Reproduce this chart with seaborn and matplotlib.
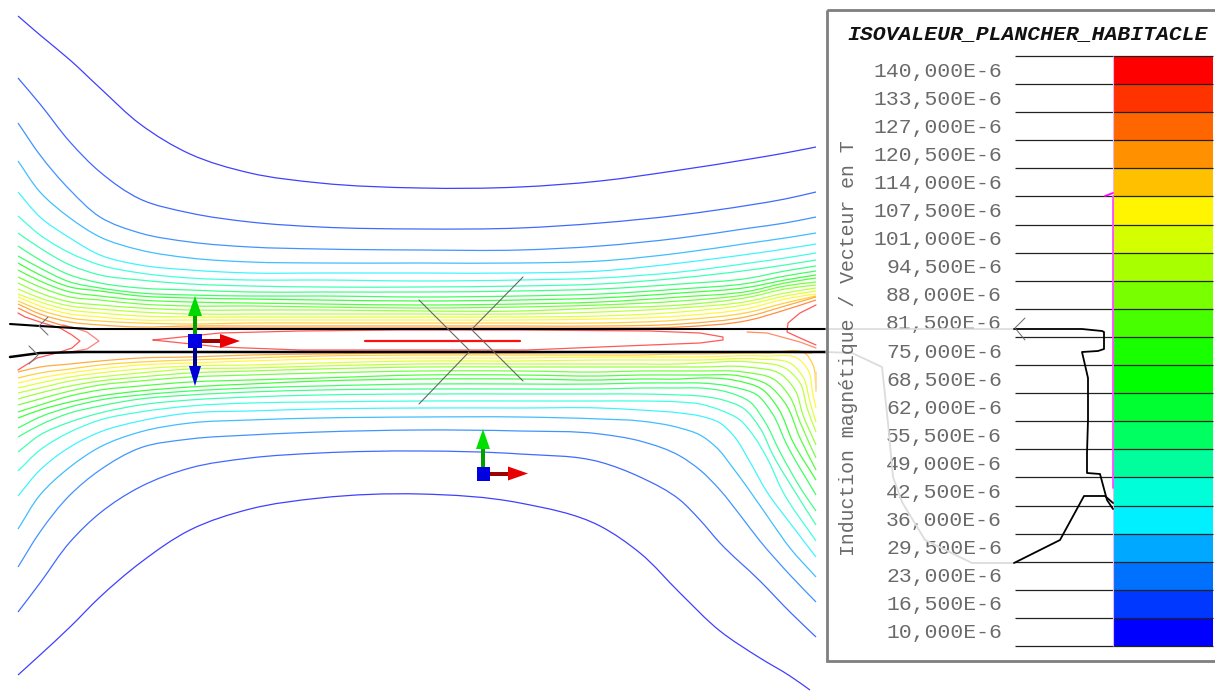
import numpy as np
import matplotlib
matplotlib.use("Agg")
import matplotlib.pyplot as plt
from matplotlib.colors import ListedColormap
from matplotlib.patches import Rectangle, Polygon, PathPatch
from matplotlib.path import Path
from matplotlib.transforms import ScaledTranslation
import seaborn as sns

# legend levels and colours, top of the scale first
level_labels = ["140,000E-6", "133,500E-6", "127,000E-6", "120,500E-6", "114,000E-6",
                "107,500E-6", "101,000E-6", "94,500E-6", "88,000E-6", "81,500E-6",
                "75,000E-6", "68,500E-6", "62,000E-6", "55,500E-6", "49,000E-6",
                "42,500E-6", "36,000E-6", "29,500E-6", "23,000E-6", "16,500E-6",
                "10,000E-6"]
band_colors = ["#ff0000", "#ff3300", "#ff6600", "#ff9000", "#ffc000", "#fff500", "#d4ff00",
               "#a8ff00", "#78ff00", "#48ff00", "#18ff00", "#00ff00", "#00ff30", "#00ff60",
               "#00ff9c", "#00ffd8", "#00f0ff", "#00a8ff", "#0070ff", "#0038ff", "#0000ff"]

# isolines above the plate, read at these x positions
top_x = [18, 40, 70, 100, 140, 190, 250, 320, 420, 520, 600, 680, 750, 785, 816]
top_0 = [16, 35, 60, 88, 124, 154, 173, 183, 188, 187, 181, 170, 159, 153, 147]
top_1 = [78, 104, 142, 172, 199, 213, 222, 227, 229, 228, 223, 215, 205, 199, 192]
top_2 = [123, 155, 190, 217, 233, 242, 247, 249, 250, 250, 246, 238, 228, 223, 217]
top_3 = [161, 192, 218, 237, 250, 258, 262, 263, 263, 263, 261, 253, 243, 238, 233]
top_4 = [192, 217, 238, 255, 265, 270, 273, 273, 273, 273, 271, 263, 254, 249, 244]
top_5 = [216, 235, 253, 265, 273, 278, 280, 280, 281, 280, 278, 272, 263, 258, 253]
top_6 = [233, 248, 265, 275, 280, 284, 286, 287, 287, 286, 284, 278, 270, 265, 260]
top_7 = [246, 260, 275, 283, 288, 290, 292, 292, 292, 291, 289, 284, 278, 271, 266]
top_8 = [256, 268, 282, 288, 293, 295, 296, 296, 297, 296, 294, 289, 283, 276, 271]
top_9 = [263, 275, 287, 291, 296, 298, 299, 300, 301, 300, 298, 293, 287, 280, 275]
top_10 = [270, 281, 292, 296, 300, 302, 303, 304, 305, 304, 302, 297, 291, 283, 278]
top_11 = [277, 287, 297, 300, 304, 306, 306, 307, 308, 307, 305, 301, 294, 286, 282]
top_12 = [283, 293, 302, 305, 308, 310, 310, 310, 311, 311, 308, 305, 297, 289, 285]
top_13 = [289, 298, 306, 309, 312, 314, 314, 314, 314, 314, 312, 308, 301, 293, 288]
top_14 = [294, 302, 310, 313, 316, 317, 317, 317, 317, 317, 316, 312, 304, 296, 291]
top_15 = [297, 306, 314, 317, 320, 320, 320, 320, 320, 320, 319, 316, 308, 299, 294]
top_16 = [301, 310, 318, 321, 323, 324, 323, 323, 323, 323, 323, 320, 312, 303, 296]
top_17 = [304, 314, 322, 325, 327, 326, 326, 326, 326, 326, 326, 324, 316, 306, 297]
top_18 = [308, 318, 327, 329, 329, 328, 328, 328, 328, 328, 328, 327, 320, 310, 300]

# isolines below the plate, shared stations up to x=680 then each line has its own
bottom_x = [18, 40, 70, 100, 140, 190, 250, 320, 420, 520, 600, 640, 680]
bottom_0 = [675, 655, 627, 597, 563, 530, 509, 498, 494, 503, 526, 553, 593]
bottom_1 = [612, 583, 542, 513, 487, 468, 458, 453, 451, 454, 462, 477, 500]
bottom_2 = [567, 532, 495, 470, 448, 439, 435, 432, 430, 431, 434, 441, 456]
bottom_3 = [529, 495, 467, 447, 432, 423, 420, 418, 417, 417, 419, 421, 428]
bottom_4 = [496, 470, 447, 432, 421, 413, 411, 409, 408, 408, 408, 410, 413]
bottom_5 = [471, 450, 432, 420, 412, 406, 403, 402, 401, 401, 401, 401, 402]
bottom_6 = [452, 435, 422, 413, 405, 400, 397, 395, 394, 394, 394, 394, 395]
bottom_7 = [437, 425, 413, 406, 399, 395, 392, 390, 389, 389, 389, 388, 388]
bottom_8 = [428, 417, 407, 400, 395, 391, 388, 386, 384, 384, 384, 383, 383]
bottom_9 = [418, 410, 402, 396, 391, 387, 384, 381, 379, 379, 380, 379, 379]
bottom_10 = [412, 405, 396, 390, 386, 382, 380, 378, 375, 375, 376, 375, 375]
bottom_11 = [405, 399, 391, 385, 381, 377, 375, 373, 371, 371, 372, 371, 371]
bottom_12 = [399, 393, 386, 381, 377, 373, 371, 369, 367, 367, 367, 367, 367]
bottom_13 = [393, 388, 381, 377, 373, 369, 368, 366, 364, 364, 364, 364, 364]
bottom_14 = [388, 383, 377, 373, 369, 366, 365, 363, 361, 361, 360, 360, 360]
bottom_15 = [383, 378, 373, 369, 365, 363, 361, 359, 358, 358, 357, 357, 357]
bottom_16 = [378, 373, 369, 365, 362, 360, 358, 356, 355, 355, 355, 355, 354]
bottom_17 = [372, 367, 364, 361, 358, 357, 355, 354, 353, 353, 352, 352, 352]

tail_0_x = [720, 760, 790, 810]
tail_0_y = [631, 658, 676, 690]
tail_1_x = [700, 720, 760, 790, 816]
tail_1_y = [520, 543, 581, 612, 637]
tail_2_x = [700, 720, 740, 760, 790, 816]
tail_2_y = [470, 490, 515, 541, 575, 602]
tail_3_x = [700, 717, 733, 747, 770, 790, 816]
tail_3_y = [435, 448, 468, 487, 520, 548, 577]
tail_4_x = [700, 720, 733, 750, 767, 790, 816]
tail_4_y = [416, 423, 435, 462, 492, 523, 557]
tail_5_x = [700, 720, 740, 753, 767, 783, 816]
tail_5_y = [404, 410, 420, 435, 458, 492, 541]
tail_6_x = [700, 723, 743, 760, 773, 797, 816]
tail_6_y = [396, 400, 408, 428, 455, 495, 525]
tail_7_x = [700, 727, 750, 765, 780, 803, 816]
tail_7_y = [388, 392, 402, 422, 452, 492, 511]
tail_8_x = [700, 733, 757, 772, 787, 816]
tail_8_y = [383, 387, 395, 413, 445, 495]
tail_9_x = [700, 733, 763, 778, 793, 816]
tail_9_y = [378, 380, 390, 408, 442, 480]
tail_10_x = [700, 740, 768, 785, 800, 816]
tail_10_y = [375, 376, 385, 403, 438, 470]
tail_11_x = [700, 743, 775, 790, 800, 816]
tail_11_y = [371, 372, 380, 397, 422, 458]
tail_12_x = [700, 747, 782, 795, 803, 816]
tail_12_y = [367, 367, 375, 390, 415, 445]
tail_13_x = [700, 750, 788, 800, 807, 816]
tail_13_y = [363, 362, 370, 383, 408, 432]
tail_14_x = [700, 757, 793, 803, 810, 816]
tail_14_y = [360, 359, 365, 377, 402, 422]
tail_15_x = [700, 763, 800, 808, 813, 816]
tail_15_y = [357, 356, 360, 370, 395, 408]
tail_16_x = [700, 767, 807, 813, 816]
tail_16_y = [354, 353, 355, 365, 388]
tail_17_x = [700, 770, 812]
tail_17_y = [352, 352, 353]
edge_stub_x = [815.5, 815.5]
edge_stub_y = [372, 391]

top_lines = [top_0, top_1, top_2, top_3, top_4, top_5, top_6, top_7, top_8, top_9,
             top_10, top_11, top_12, top_13, top_14, top_15, top_16, top_17, top_18]
bottom_lines = [(bottom_0, tail_0_x, tail_0_y), (bottom_1, tail_1_x, tail_1_y),
                (bottom_2, tail_2_x, tail_2_y), (bottom_3, tail_3_x, tail_3_y),
                (bottom_4, tail_4_x, tail_4_y), (bottom_5, tail_5_x, tail_5_y),
                (bottom_6, tail_6_x, tail_6_y), (bottom_7, tail_7_x, tail_7_y),
                (bottom_8, tail_8_x, tail_8_y), (bottom_9, tail_9_x, tail_9_y),
                (bottom_10, tail_10_x, tail_10_y), (bottom_11, tail_11_x, tail_11_y),
                (bottom_12, tail_12_x, tail_12_y), (bottom_13, tail_13_x, tail_13_y),
                (bottom_14, tail_14_x, tail_14_y), (bottom_15, tail_15_x, tail_15_y),
                (bottom_16, tail_16_x, tail_16_y), (bottom_17, tail_17_x, tail_17_y)]

# red loops inside the gap between the two plates
left_loop_x = [18, 25, 43, 60, 72, 80, 72, 57, 37, 18]
left_loop_y = [313, 317, 323, 328, 335, 341, 348, 353, 358, 370]
left_inner_x = [63, 75, 87, 99, 87, 70]
left_inner_y = [325, 328, 332, 341, 349, 352]
lobe_x = [153, 220, 300, 400, 520, 650, 700, 723, 723, 700, 600, 527, 400, 300, 220, 153]
lobe_y = [340, 333, 331, 330, 330, 331, 333, 337, 340, 343, 347, 350, 350, 350, 347, 340]
right_loop_x = [816, 800, 788, 787, 800, 816]
right_loop_y = [305, 313, 323, 332, 338, 345]
right_inner_x = [747, 767, 800, 816]
right_inner_y = [332, 333, 342, 348]
red_bar_x = [365, 520]
red_bar_y = [340.5, 340.5]

# plate edges, dark then pale where they run behind the legend
plate_top_x = [10, 40, 90, 826]
plate_top_y = [324, 326, 329, 329]
plate_bottom_x = [10, 40, 83, 826]
plate_bottom_y = [357, 353, 352, 352]
pale_top_x = [826, 1015]
pale_top_y = [329, 329]
pale_path_x = [826, 852, 882, 888, 893, 902, 925, 972, 1014]
pale_path_y = [352, 353, 367, 423, 477, 502, 540, 563, 563]

# curve drawn inside the legend
curve_a_x = [1014, 1082, 1102, 1104, 1104, 1098, 1082, 1088, 1088, 1087, 1087, 1100, 1107, 1113]
curve_a_y = [329, 329, 331, 332, 349, 351, 352, 378, 420, 453, 473, 474, 500, 509]
curve_b_x = [1014, 1060, 1084, 1105, 1113]
curve_b_y = [563, 540, 496, 496, 503]

sns.set_theme(style="white")
plt.rcParams["font.family"] = ["Liberation Mono", "DejaVu Sans"]

fig = plt.figure(figsize=(12.15, 6.91), dpi=100, facecolor="white")
W, H = 1215.0, 691.0

# colour scale
ax_band = fig.add_axes([1113 / W, 1 - 646 / H, 100 / W, 590 / H], zorder=1)
levels = np.arange(len(level_labels))[::-1].reshape(-1, 1)
sns.heatmap(levels, cmap=ListedColormap(band_colors[::-1]), cbar=False, ax=ax_band,
            xticklabels=False, yticklabels=level_labels)
ax_band.tick_params(axis="y", length=0, pad=80, labelsize=15.4, labelcolor="#6a6a6a", rotation=0)
shift = ScaledTranslation(0, -1 / 100, fig.dpi_scale_trans)
for t in ax_band.get_yticklabels():
    t.set_transform(t.get_transform() + shift)
ax_band.hlines(np.arange(len(level_labels) + 1), -0.98, 1.0, color="#222222", lw=0.9, clip_on=False)
ax_band.vlines(0, 0, len(level_labels), color="#e6b8f0", lw=0.8, clip_on=False)

# everything else sits on a pixel-sized axes
ax = fig.add_axes([0, 0, 1, 1], zorder=2)
ax.patch.set_visible(False)


def draw(x, y, color, lw=0.9, alpha=1.0):
    sns.lineplot(x=x, y=y, color=color, lw=lw, alpha=alpha, sort=False, estimator=None,
                 legend=False, ax=ax)


def draw_smooth(x, y, color, lw=0.9, alpha=0.75):
    # a spline through the read points, the isolines are round in the original
    p = np.column_stack([x, y]).astype(float)
    t = np.r_[0, np.cumsum(np.hypot(*np.diff(p, axis=0).T))]
    m = np.gradient(p, t, axis=0)
    verts = [p[0]]
    codes = [Path.MOVETO]
    for i in range(len(p) - 1):
        h = (t[i + 1] - t[i]) / 3
        verts += [p[i] + m[i] * h, p[i + 1] - m[i + 1] * h, p[i + 1]]
        codes += [Path.CURVE4] * 3
    ax.add_patch(PathPatch(Path(verts, codes), facecolor="none", edgecolor=color, lw=lw, alpha=alpha))


low_first = band_colors[::-1]
for i, row in enumerate(top_lines):
    draw_smooth(top_x, row, low_first[i])
for i, (row, tx, ty) in enumerate(bottom_lines):
    draw_smooth(bottom_x + tx, row + ty, low_first[i])
draw(edge_stub_x, edge_stub_y, "#ffd8a0", lw=1.2)

draw(left_loop_x, left_loop_y, "#ff3030", alpha=0.8)
draw(left_inner_x, left_inner_y, "#ff6060", alpha=0.8)
draw(lobe_x, lobe_y, "#ff3030", alpha=0.8)
draw(right_loop_x, right_loop_y, "#ff3030", alpha=0.8)
draw(right_inner_x, right_inner_y, "#ff7040", alpha=0.8)
draw(red_bar_x, red_bar_y, "#ff1010", lw=1.6)

draw(plate_top_x, plate_top_y, "black", lw=1.5)
draw(plate_bottom_x, plate_bottom_y, "black", lw=1.8)
draw(pale_top_x, pale_top_y, "#dcdcdc", lw=1.2)
draw(pale_path_x, pale_path_y, "#dcdcdc", lw=1.3)
draw(curve_a_x, curve_a_y, "black", lw=1.3)
draw(curve_b_x, curve_b_y, "black", lw=1.3)

# magenta marker along the scale
draw([1113, 1113], [196, 488], "#ff40ff", lw=1.2)
draw([1105, 1113], [196, 193], "#ff00ff", lw=1.3)

# cross and arrowheads
for xs, ys in [([419, 469], [300, 350]), ([472, 523], [330, 381]), ([472, 523], [329, 277]),
               ([469, 419], [352, 404])]:
    draw(xs, ys, "#666666", lw=0.8)
draw([48, 39, 48], [317, 326, 335], "#777777", lw=0.8)
draw([29, 38, 29], [346, 355, 364], "#777777", lw=0.8)
draw([1025, 1015, 1025], [318, 328, 340], "#666666", lw=0.7)


def arrow(x0, y0, dx, dy, shaft, head, shaft_len=18, head_len=20, half=7):
    # dx, dy is a unit direction, x0, y0 the foot of the shaft
    nx, ny = -dy, dx
    x1, y1 = x0 + dx * shaft_len, y0 + dy * shaft_len
    ax.add_patch(Polygon([(x0 + nx * 2, y0 + ny * 2), (x1 + nx * 2, y1 + ny * 2),
                          (x1 - nx * 2, y1 - ny * 2), (x0 - nx * 2, y0 - ny * 2)],
                         facecolor=shaft, edgecolor="none", zorder=5))
    ax.add_patch(Polygon([(x1 + nx * half, y1 + ny * half), (x1 + dx * head_len, y1 + dy * head_len),
                          (x1 - nx * half, y1 - ny * half)],
                         facecolor=head, edgecolor="none", zorder=5))


# first triad
arrow(202, 341, 1, 0, "#9c0000", "#e80000")
arrow(195, 334, 0, -1, "#00a000", "#00d800")
arrow(195, 348, 0, 1, "#000090", "#0000d8", half=6)
ax.add_patch(Rectangle((188, 334), 14, 14, facecolor="#0000e0", edgecolor="none", zorder=6))
# second triad
arrow(490, 473.5, 1, 0, "#9c0000", "#e80000")
arrow(483, 467, 0, -1, "#00a000", "#00e000")
ax.add_patch(Rectangle((477, 467), 13, 14, facecolor="#0000e0", edgecolor="none", zorder=6))

# legend frame and texts
ax.add_patch(Rectangle((827, 9.5), 420, 651.5, facecolor="none", edgecolor="#7f7f7f", lw=2, zorder=4))
ax.text(1028, 34, "ISOVALEUR_PLANCHER_HABITACLE", ha="center", va="center", fontsize=15.4,
        fontweight="bold", fontstyle="italic", color="#111111")
ax.text(848, 348, "Induction magnétique / Vecteur en T", rotation=90, ha="center", va="center",
        fontsize=14.3, color="#6a6a6a")

ax.set_xlim(0, W)
ax.set_ylim(H, 0)
ax.set_xlabel("")
ax.set_ylabel("")
ax.axis("off")

fig.savefig("out.png", dpi=100)
